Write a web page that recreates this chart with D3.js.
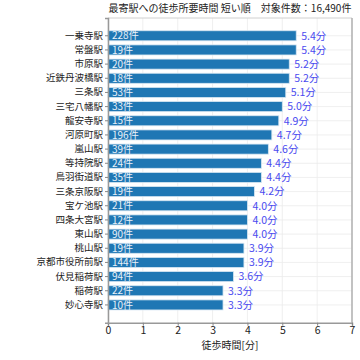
<!DOCTYPE html>
<html><head><meta charset="utf-8">
<script src="https://cdn.jsdelivr.net/npm/d3@7"></script>
<style>body{margin:0;background:#fff;}svg{display:block;font-family:"Noto Sans CJK JP","Noto Sans",sans-serif;}</style>
</head><body><svg id="c" width="360" height="360"></svg>
<script>
const stations = ["一乗寺駅","常盤駅","市原駅","近鉄丹波橋駅","三条駅","三宅八幡駅","龍安寺駅","河原町駅","嵐山駅","等持院駅","鳥羽街道駅","三条京阪駅","宝ケ池駅","四条大宮駅","東山駅","桃山駅","京都市役所前駅","伏見稲荷駅","稲荷駅","妙心寺駅"];
const minutes = [5.4,5.4,5.2,5.2,5.1,5.0,4.9,4.7,4.6,4.4,4.4,4.2,4.0,4.0,4.0,3.9,3.9,3.6,3.3,3.3];
const counts = [228,19,20,18,53,33,15,196,39,24,35,19,21,12,90,19,144,94,22,10];
const xTicks = [0,1,2,3,4,5,6,7];
const title = "最寄駅への徒歩所要時間 短い順　対象件数：16,490件";
const xLabel = "徒歩時間[分]";

const svg = d3.select("#c");
const L = 108, R = 352, T = 18, B = 322.7;
const x = d3.scaleLinear().domain([0,7]).range([L,R]);
const y = d3.scaleBand().domain(stations).range([T,B]).paddingInner(0.29).paddingOuter(0.9);

// grid
svg.append("g").selectAll("line.v").data(xTicks).join("line")
  .attr("x1",d=>x(d)).attr("x2",d=>x(d)).attr("y1",T).attr("y2",B)
  .attr("stroke","#ebebeb").attr("stroke-width",0.8);
svg.append("g").selectAll("line.h").data(stations).join("line")
  .attr("x1",L).attr("x2",R).attr("y1",d=>y(d)+y.bandwidth()/2).attr("y2",d=>y(d)+y.bandwidth()/2)
  .attr("stroke","#ebebeb").attr("stroke-width",0.8);

// bars
svg.append("g").selectAll("rect").data(stations).join("rect")
  .attr("x",x(0)).attr("y",d=>y(d)).attr("height",y.bandwidth())
  .attr("width",(d,i)=>x(minutes[i])-x(0))
  .attr("fill","#1f77b4").attr("stroke","#d6e6f2").attr("stroke-width",0.8);

// count labels
svg.append("g").selectAll("text").data(stations).join("text")
  .attr("x",x(0)+4).attr("y",d=>y(d)+y.bandwidth()/2).attr("dy","0.36em")
  .attr("font-size",10).attr("fill","#e8f0f8")
  .text((d,i)=>counts[i]+"件");

// value labels
svg.append("g").selectAll("text").data(stations).join("text")
  .attr("x",(d,i)=>x(minutes[i])+5).attr("y",d=>y(d)+y.bandwidth()/2).attr("dy","0.36em")
  .attr("font-size",10.5).attr("fill","#4a4af0")
  .text((d,i)=>minutes[i].toFixed(1)+"分");

// frame
svg.append("line").attr("x1",L).attr("x2",R).attr("y1",T).attr("y2",T).attr("stroke","#d0d0d0").attr("stroke-width",1);
svg.append("line").attr("x1",R).attr("x2",R).attr("y1",T).attr("y2",B).attr("stroke","#b0b0b0").attr("stroke-width",1.5);

// axes
const xa = svg.append("g").attr("transform",`translate(0,${B})`)
  .call(d3.axisBottom(x).tickValues(xTicks).tickFormat(d3.format("d")).tickSize(3).tickPadding(1));
const ya = svg.append("g").attr("transform",`translate(${L},0)`)
  .call(d3.axisLeft(y).tickSize(3).tickPadding(2));
[xa,ya].forEach(a=>{
  a.select(".domain").attr("stroke","#999").attr("stroke-width",1.5);
  a.selectAll(".tick line").attr("stroke","#888");
  a.selectAll("text").attr("fill","#222").attr("font-family",'"Noto Sans CJK JP",sans-serif');
});
xa.selectAll("text").attr("font-size",10.5);
ya.selectAll("text").attr("font-size",9.5);

svg.append("text").attr("x",(L+R)/2).attr("y",12).attr("text-anchor","middle")
  .attr("font-size",10).attr("fill","#222").text(title);
svg.append("text").attr("x",(L+R)/2).attr("y",349).attr("text-anchor","middle")
  .attr("font-size",10).attr("fill","#222").text(xLabel);
</script></body></html>
